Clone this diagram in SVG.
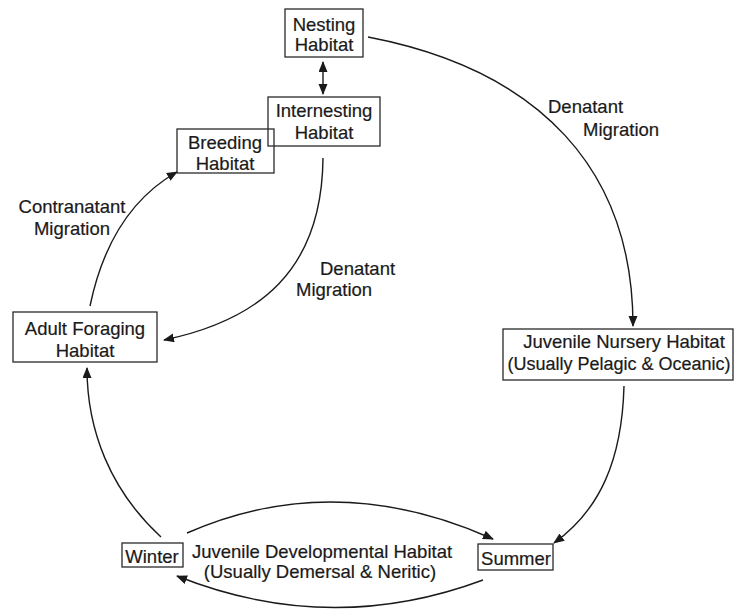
<svg xmlns="http://www.w3.org/2000/svg" width="734" height="610" viewBox="0 0 734 610">
<style>
.box{fill:none;stroke:#2a2a2a;stroke-width:1.3}
.t{font-family:"Liberation Sans",Arial,sans-serif;font-size:18.5px;fill:#1a1a1a;stroke:#1a1a1a;stroke-width:0.2}
.c{text-anchor:middle}
.ln{fill:none;stroke:#1a1a1a;stroke-width:1.4}
</style>
<defs>
<marker id="ah" markerUnits="userSpaceOnUse" markerWidth="12" markerHeight="10" refX="10" refY="4.5" orient="auto-start-reverse" viewBox="0 0 12 10">
<path d="M0,0 L11,4.5 L0,9 Z" fill="#1a1a1a"/>
</marker>
</defs>
<rect width="734" height="610" fill="#fff"/>
<g id="connectors">
<line class="ln" x1="323" y1="62" x2="323" y2="94" marker-start="url(#ah)" marker-end="url(#ah)"/>
<path class="ln" d="M368,37 C540,70 633,170 633,326" marker-end="url(#ah)"/>
<path class="ln" d="M323,158 C322,270 260,320 164,340" marker-end="url(#ah)"/>
<path class="ln" d="M90,306 Q110,210 177,172" marker-end="url(#ah)"/>
<path class="ln" d="M624,386 C622,460 600,510 554,543" marker-end="url(#ah)"/>
<path class="ln" d="M161,537 C110,490 87,430 87,368" marker-end="url(#ah)"/>
<path class="ln" d="M187,533 Q335,468 493,539" marker-end="url(#ah)"/>
<path class="ln" d="M483,580 Q330,637 177,576" marker-end="url(#ah)"/>
</g>
<g id="nesting">
<rect class="box" x="285" y="9" width="78" height="48"/>
<text class="t c" x="324" y="31">Nesting</text>
<text class="t c" x="324" y="51">Habitat</text>
</g>
<g id="internesting">
<rect class="box" x="268" y="97" width="112" height="49"/>
<text class="t c" x="324" y="117">Internesting</text>
<text class="t c" x="324" y="139">Habitat</text>
</g>
<g id="breeding">
<rect class="box" x="177" y="129" width="97" height="44"/>
<text class="t c" x="225" y="149">Breeding</text>
<text class="t c" x="225" y="170">Habitat</text>
</g>
<g id="adult-foraging">
<rect class="box" x="13" y="312" width="144" height="50"/>
<text class="t c" x="85" y="335">Adult Foraging</text>
<text class="t c" x="85" y="357">Habitat</text>
</g>
<g id="juvenile-nursery">
<rect class="box" x="503" y="329" width="230" height="51"/>
<text class="t c" x="624" y="348">Juvenile Nursery Habitat</text>
<text class="t c" x="619" y="370" style="font-size:18px">(Usually Pelagic &amp; Oceanic)</text>
</g>
<g id="winter">
<rect class="box" x="122" y="543" width="61" height="24"/>
<text class="t c" x="152" y="563">Winter</text>
</g>
<g id="summer">
<rect class="box" x="478" y="544" width="75" height="26"/>
<text class="t c" x="516" y="565">Summer</text>
</g>
<g id="labels">
<text class="t c" x="72" y="213">Contranatant</text>
<text class="t c" x="72" y="235">Migration</text>
<text class="t" x="320" y="275">Denatant</text>
<text class="t" x="296" y="296">Migration</text>
<text class="t" x="548" y="113">Denatant</text>
<text class="t" x="583" y="136">Migration</text>
<text class="t c" x="322" y="558">Juvenile Developmental Habitat</text>
<text class="t c" x="320" y="578">(Usually Demersal &amp; Neritic)</text>
</g>
</svg>
